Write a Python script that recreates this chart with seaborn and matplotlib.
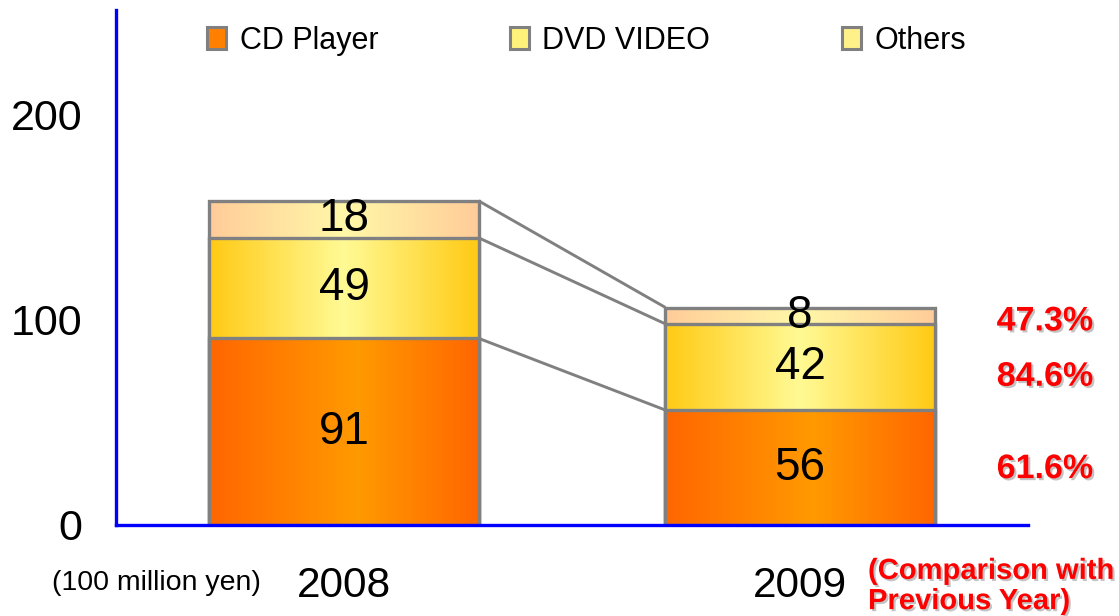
import numpy as np
import pandas as pd
import matplotlib
matplotlib.use("Agg")
import matplotlib.pyplot as plt
import matplotlib.patheffects as pe
from matplotlib.patches import Patch
from matplotlib.colors import LinearSegmentedColormap
import seaborn as sns

# ---- data ----
years = ["2008", "2009"]
cd_player = [91, 56]
dvd_video = [49, 42]
others = [18, 8]
series_names = ["CD Player", "DVD VIDEO", "Others"]
change_labels = ["61.6%", "84.6%", "47.3%"]   # CD, DVD, Others (2009 vs 2008)
unit_label = "(100 million yen)"
comparison_label = "(Comparison with\nPrevious Year)"

sns.set_theme(style="white")
plt.rcParams["font.family"] = ["Liberation Sans", "DejaVu Sans"]
plt.rcParams["text.color"] = "black"
plt.rcParams["xtick.labelcolor"] = "black"
plt.rcParams["ytick.labelcolor"] = "black"

fig = plt.figure(figsize=(11.19, 6.16), dpi=100)
ax = fig.add_axes([116 / 1119, 1 - 525 / 616, 912 / 1119, 515 / 616])

BLUE = "#0000FF"
GRAY = "#808080"
BAR_W = 0.59

cum1 = np.array(cd_player)
cum2 = cum1 + np.array(dvd_video)
cum3 = cum2 + np.array(others)

# gradients: (edge colour, centre colour)
grad_cd = LinearSegmentedColormap.from_list("cd", [(0, "#FF6600"), (0.55, "#FF9A00"), (1, "#FF6600")])
grad_dvd = LinearSegmentedColormap.from_list("dvd", [(0, "#FFCA14"), (0.5, "#FFFA95"), (1, "#FFCA14")])
grad_oth = LinearSegmentedColormap.from_list("oth", [(0, "#FFCC99"), (0.5, "#FFF8A8"), (1, "#FFCC99")])

layers = [(cum3, grad_oth), (cum2, grad_dvd), (cum1, grad_cd)]
gradient = np.linspace(0, 1, 256).reshape(1, -1)
for i, (vals, cmap) in enumerate(layers):
    n_before = len(ax.patches)
    sns.barplot(x=years, y=vals, ax=ax, width=BAR_W, color="white", saturation=1,
                edgecolor=GRAY, linewidth=2.4, zorder=2 + i * 0.1)
    for p in ax.patches[n_before:]:
        x0, y0 = p.get_x(), p.get_y()
        x1, y1 = x0 + p.get_width(), y0 + p.get_height()
        im = ax.imshow(gradient, cmap=cmap, extent=(x0, x1, y0, y1), aspect="auto",
                       zorder=2 + i * 0.1 - 0.01, interpolation="bicubic")
        im.set_clip_path(p)
        p.set_facecolor("none")
        p.set_zorder(2 + i * 0.1 + 0.005)

# connector lines between bars
for c in (cum1, cum2, cum3):
    ax.plot([0 + BAR_W / 2, 1 - BAR_W / 2], [c[0], c[1]], color=GRAY, lw=2.1,
            zorder=1.5, solid_capstyle="butt")

# value labels centred in segments
for xi in range(len(years)):
    bottoms = [0, cum1[xi], cum2[xi]]
    for v, b in zip([cd_player[xi], dvd_video[xi], others[xi]], bottoms):
        ax.text(xi, b + v / 2, f"{v}", ha="center", va="center", fontsize=33,
                color="black", zorder=5)

ax.set_xlim(-0.5, 1.5)
ax.set_ylim(0, 251)
ax.set_yticks([0, 100, 200])
ax.set_yticklabels(["0", "100", "200"], fontsize=31)
ax.set_xticks([0, 1])
ax.set_xticklabels(years, fontsize=30.5)
ax.set_xticks([-0.5, 0.5, 1.5], minor=True)
ax.tick_params(axis="x", which="major", length=0, pad=29.5)
ax.tick_params(axis="x", which="minor", direction="in", length=8.5, width=2.2, color=BLUE)
ax.tick_params(axis="y", which="major", direction="in", length=8.5, width=2.2, color=BLUE, pad=24)
ax.set_xlabel("")
ax.set_ylabel("")
for s in ("top", "right"):
    ax.spines[s].set_visible(False)
for s in ("left", "bottom"):
    ax.spines[s].set_color(BLUE)
    ax.spines[s].set_linewidth(2.4)
    ax.spines[s].set_zorder(6)
ax.grid(False)

# legend
handles = [Patch(facecolor="#FF8000", edgecolor=GRAY, lw=2.2),
           Patch(facecolor="#FFF27A", edgecolor=GRAY, lw=2.2),
           Patch(facecolor="#FFF08A", edgecolor=GRAY, lw=2.2)]
fig.legend(handles, series_names, loc="center left", ncol=3, frameon=False,
           bbox_to_anchor=(207 / 1119, 1 - 41 / 616), bbox_transform=fig.transFigure,
           fontsize=22, handlelength=0.62, handleheight=0.72, handletextpad=0.45,
           columnspacing=4.3, borderpad=0, borderaxespad=0)

# comparison percentages (right side)
shadow = [pe.SimplePatchShadow(offset=(1.5, -1.5), shadow_rgbFace="#888888", alpha=0.5), pe.Normal()]
pct_y = [27, 72, 99]
for lab, yv in zip(change_labels, pct_y):
    ax.text(1.537, yv, lab, ha="center", va="center", fontsize=24.5, fontweight="bold",
            color="#FF0000", clip_on=False, path_effects=shadow, zorder=7)

fig.text(156 / 1119, 1 - 583 / 616, unit_label, ha="center", va="center", fontsize=20.5)
fig.text(868 / 1119, 1 - 586 / 616, comparison_label, ha="left", va="center", fontsize=21,
         fontweight="bold", color="#FF0000", linespacing=1.1, path_effects=shadow)

fig.savefig("out.png", dpi=100)
